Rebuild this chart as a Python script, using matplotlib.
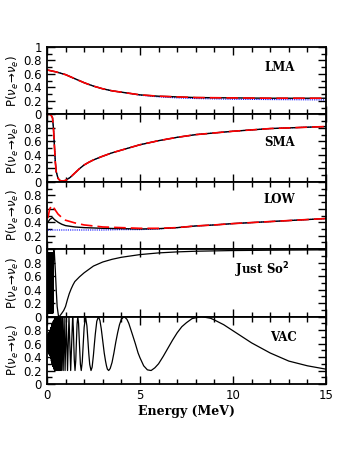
import matplotlib
matplotlib.use("Agg")
from matplotlib import pyplot as plt
from matplotlib.ticker import MultipleLocator, FuncFormatter

# LMA
lma_e = [0, 0.5, 1, 1.5, 2, 2.5, 3, 3.5, 4, 4.5, 5, 6, 7, 8, 10, 12, 15]
lma_black = [0.66, 0.63, 0.59, 0.53, 0.47, 0.42, 0.38, 0.35, 0.33, 0.31, 0.29, 0.27, 0.26, 0.25, 0.245, 0.24, 0.24]
lma_red = [0.66, 0.63, 0.59, 0.53, 0.47, 0.42, 0.38, 0.35, 0.33, 0.31, 0.29, 0.27, 0.26, 0.25, 0.245, 0.24, 0.24]
lma_blue = [0.66, 0.63, 0.59, 0.53, 0.47, 0.42, 0.38, 0.35, 0.33, 0.31, 0.285, 0.26, 0.245, 0.235, 0.225, 0.22, 0.215]

# SMA
sma_e = [0.05, 0.2, 0.3, 0.35, 0.4, 0.45, 0.5, 0.6, 0.7, 0.8, 1.0, 1.25, 1.5, 1.75, 2, 2.25, 2.5, 3, 3.5, 4, 5, 6, 7, 8, 10, 12, 15]
sma_p = [1.0, 1.0, 0.95, 0.8, 0.55, 0.3, 0.15, 0.05, 0.02, 0.01, 0.02, 0.065, 0.13, 0.195, 0.25, 0.29, 0.325, 0.38, 0.43, 0.47, 0.55, 0.61, 0.66, 0.70, 0.75, 0.79, 0.82]

# LOW
low_e = [0.05, 0.15, 0.25, 0.3, 0.4, 0.6, 0.8, 1, 1.5, 2, 3, 4, 5, 6, 7, 8, 9, 10, 11, 12, 13, 14, 15]
low_black = [0.40, 0.44, 0.46, 0.47, 0.44, 0.40, 0.37, 0.35, 0.33, 0.32, 0.31, 0.305, 0.30, 0.305, 0.32, 0.345, 0.36, 0.38, 0.395, 0.41, 0.425, 0.44, 0.455]
low_red = [0.46, 0.60, 0.64, 0.65, 0.60, 0.52, 0.47, 0.43, 0.39, 0.36, 0.33, 0.32, 0.31, 0.31, 0.32, 0.345, 0.36, 0.38, 0.395, 0.41, 0.425, 0.44, 0.455]
low_blue = [0.285, 0.285, 0.285, 0.285, 0.285, 0.285, 0.285, 0.285, 0.285, 0.285, 0.285, 0.29, 0.29, 0.30, 0.32, 0.345, 0.36, 0.38, 0.395, 0.41, 0.425, 0.44, 0.455]

# Just So^2
jso_e = [0.0, 0.02, 0.04, 0.06, 0.08, 0.10, 0.12, 0.14, 0.16, 0.18, 0.20, 0.22, 0.24, 0.26, 0.28, 0.30, 0.32,
         0.36, 0.4, 0.45, 0.5, 0.55, 0.62, 0.66, 0.72, 0.8, 0.9, 1.0, 1.1, 1.2, 1.3, 1.4, 1.5, 1.75, 2, 2.5,
         3, 3.5, 4, 5, 6, 7, 8, 10, 12, 15]
jso_p = [0.5, 0.95, 0.05, 0.95, 0.05, 0.95, 0.05, 0.95, 0.05, 0.95, 0.05, 0.95, 0.05, 0.95, 0.05, 0.95, 0.05,
         1.0, 0.95, 0.7, 0.4, 0.15, 0.01, 0.0, 0.02, 0.05, 0.09, 0.15, 0.25, 0.34, 0.41, 0.47, 0.52, 0.59, 0.65, 0.75,
         0.81, 0.85, 0.88, 0.92, 0.945, 0.96, 0.97, 0.98, 0.985, 0.99]

# VAC
vac_e = [0.0, 0.02, 0.04, 0.06, 0.08, 0.10, 0.12, 0.14, 0.16, 0.18, 0.20, 0.22, 0.24, 0.26, 0.28, 0.30, 0.32,
         0.34, 0.36, 0.38, 0.40, 0.42, 0.44, 0.46, 0.48, 0.50, 0.52, 0.545, 0.57, 0.593, 0.615, 0.638, 0.664,
         0.692, 0.722, 0.755, 0.79, 0.83, 0.874, 0.922, 0.976, 1.0375, 1.107, 1.186, 1.277, 1.383, 1.42, 1.445,
         1.47, 1.51, 1.55, 1.58, 1.62, 1.66, 1.70, 1.75, 1.80, 1.845, 1.90, 1.96, 2.0, 2.075, 2.15, 2.2, 2.25,
         2.3, 2.37, 2.43, 2.5, 2.55, 2.6, 2.68, 2.77, 2.85, 2.92, 3.0, 3.08, 3.15, 3.2, 3.25,
         3.32, 3.4, 3.5, 3.6, 3.7, 3.8, 3.9, 4.0, 4.15, 4.3, 4.4, 4.6, 4.75, 4.9, 5.0, 5.2, 5.4, 5.6, 5.8,
         6.0, 6.25, 6.5, 6.75, 7.0, 7.25, 7.5, 7.8, 8.3, 8.8, 9.0, 9.5, 10, 11, 12, 13, 14, 15]
vac_p = [0.6, 0.72, 0.48, 0.74, 0.46, 0.76, 0.44, 0.78, 0.42, 0.80, 0.38, 0.84, 0.34, 0.88, 0.30, 0.90, 0.26,
         0.93, 0.23, 0.95, 0.21, 0.97, 0.20, 0.98, 0.20, 0.99, 0.20, 1.0, 0.20, 1.0, 0.20, 1.0, 0.20,
         1.0, 0.20, 1.0, 0.20, 1.0, 0.20, 1.0, 0.20, 1.0, 0.20, 1.0, 0.20, 1.0, 0.83, 0.58,
         0.36, 0.20, 0.35, 0.59, 0.89, 1.0, 0.90, 0.58, 0.29, 0.20, 0.33, 0.64, 0.84, 1.0, 0.86, 0.66, 0.45,
         0.29, 0.20, 0.25, 0.43, 0.59, 0.74, 0.93, 1.0, 0.94, 0.82, 0.64, 0.46, 0.34, 0.27, 0.22,
         0.20, 0.23, 0.32, 0.46, 0.62, 0.76, 0.88, 0.96, 1.0, 0.96, 0.90, 0.73, 0.60, 0.46, 0.39, 0.27, 0.21, 0.20, 0.24,
         0.30, 0.41, 0.53, 0.65, 0.76, 0.85, 0.91, 0.97, 1.0, 0.975, 0.95, 0.88, 0.79, 0.61, 0.46, 0.34, 0.27, 0.22]

labels = ['LMA', 'SMA', 'LOW', r'Just So$^{\mathbf{2}}$', 'VAC']
label_pos = [(12.5, 0.70), (12.5, 0.58), (12.5, 0.73), (11.6, 0.69), (12.7, 0.69)]


def top_fmt(v, pos):
    if abs(v) < 1e-6:
        return '0'
    if abs(v - 1) < 1e-6:
        return '1'
    if 0 < v < 1:
        return '%.1f' % v
    return ''


def rest_fmt(v, pos):
    if abs(v - 1) < 1e-6 or v > 1:
        return ''
    return top_fmt(v, pos)


fig, axes = plt.subplots(5, 1, sharex=True, figsize=(3.45, 4.59), dpi=100)
fig.subplots_adjust(left=0.136, right=0.945, bottom=0.1634, top=0.8976, hspace=0)

dash = (0, (7, 3))
ax = axes[0]
ax.plot(lma_e, lma_blue, color='blue', lw=0.8, linestyle=(0, (1, 1)))
ax.plot(lma_e, lma_black, color='black', lw=1.0)
ax.plot(lma_e, lma_red, color='red', lw=1.2, linestyle=dash)

ax = axes[1]
ax.plot(sma_e, sma_p, color='blue', lw=0.8, linestyle=(0, (1, 1)))
ax.plot(sma_e, sma_p, color='black', lw=1.0)
ax.plot(sma_e, sma_p, color='red', lw=1.2, linestyle=dash)

ax = axes[2]
ax.plot(low_e, low_blue, color='blue', lw=0.8, linestyle=(0, (1, 1)))
ax.plot(low_e, low_black, color='black', lw=1.0)
ax.plot(low_e, low_red, color='red', lw=1.2, linestyle=dash)

axes[3].plot(jso_e, jso_p, color='black', lw=0.9)
axes[4].plot(vac_e, vac_p, color='black', lw=0.9)

for i, ax in enumerate(axes):
    ax.set_xlim(0, 15)
    ax.set_ylim(0, 1)
    ax.xaxis.set_major_locator(MultipleLocator(5))
    ax.xaxis.set_minor_locator(MultipleLocator(1))
    ax.yaxis.set_major_locator(MultipleLocator(0.2))
    ax.yaxis.set_minor_locator(MultipleLocator(0.1))
    ax.yaxis.set_major_formatter(FuncFormatter(top_fmt if i == 0 else rest_fmt))
    ax.tick_params(axis='x', which='both', direction='in', top=True, bottom=True, width=1.0, color='black')
    ax.tick_params(axis='y', which='both', direction='in', left=True, right=True, width=1.0, color='black')
    ax.tick_params(axis='both', which='major', length=6, labelsize=8.5)
    ax.tick_params(axis='both', which='minor', length=3.5)
    for s in ax.spines.values():
        s.set_linewidth(1.3)
    ax.set_ylabel(r'P($\nu_e\!\rightarrow\!\nu_e$)', fontsize=8.5, labelpad=2)
    ax.text(label_pos[i][0], label_pos[i][1], labels[i], ha='center', va='center',
            fontsize=8.5, family='DejaVu Serif', fontweight='bold')

axes[4].set_xlabel('Energy (MeV)', fontsize=9, family='DejaVu Serif', fontweight='bold', labelpad=2)

plt.savefig('out.png', dpi=100)
